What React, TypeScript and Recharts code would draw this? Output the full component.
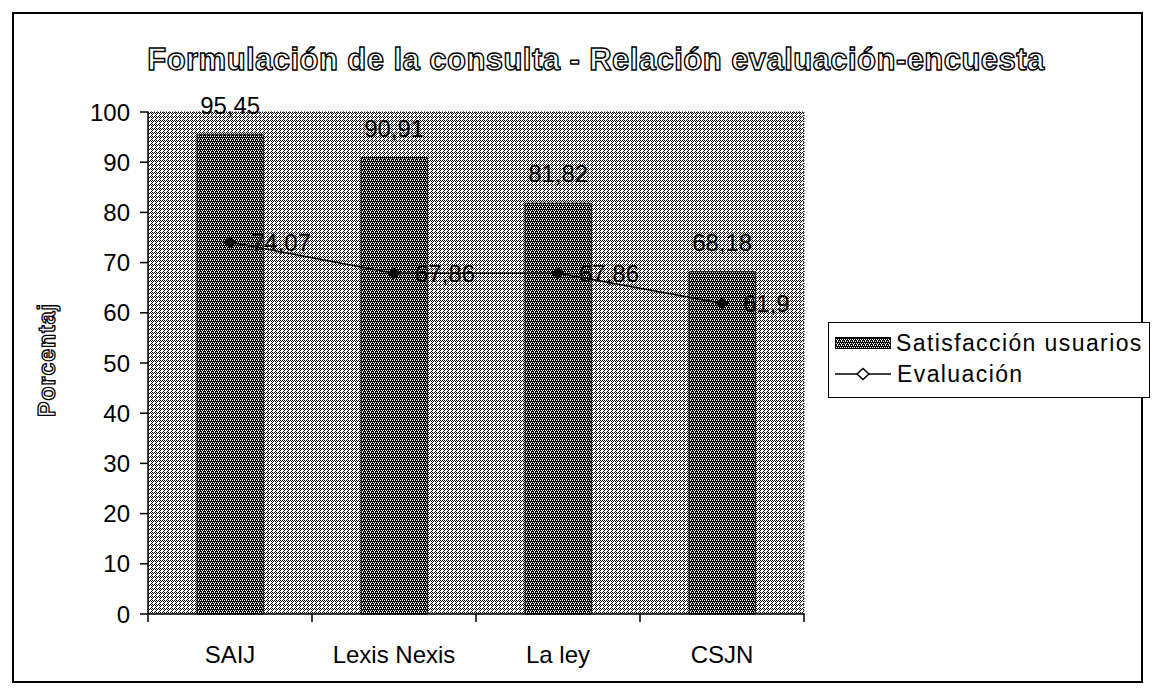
import React from 'react';
import { ComposedChart, Bar, Line, XAxis, YAxis, CartesianGrid, LabelList, Legend, ReferenceLine } from 'recharts';

const categories = ['SAIJ', 'Lexis Nexis', 'La ley', 'CSJN'];
const satisfaccion = [95.45, 90.91, 81.82, 68.18];
const evaluacion = [74.07, 67.86, 67.86, 61.9];
const yTicks = [0, 10, 20, 30, 40, 50, 60, 70, 80, 90, 100];

const data = categories.map((name, i) => ({
  name,
  satisfaccion: satisfaccion[i],
  evaluacion: evaluacion[i],
}));

const FONT = '"Liberation Sans", Arial, sans-serif';
const fmt = (v: number) => String(v).replace('.', ',');

// filled diamond marker for the line
const Diamond = (props: any) => {
  const { cx, cy } = props;
  if (cx == null || cy == null) return null;
  return <polygon points={`${cx},${cy - 6} ${cx + 7},${cy} ${cx},${cy + 6} ${cx - 7},${cy}`} fill="#000" />;
};

const LineLabel = (props: any) => {
  const { x, y, value } = props;
  return (
    <text x={x + 21} y={y} dy="0.36em" fontSize={24} fontFamily={FONT} fill="#000">
      {fmt(value)}
    </text>
  );
};

// category label plus tick marks on the band edges (Excel style)
const CatTick = (props: any) => {
  const { x, y, payload, index, visibleTicksCount, width } = props;
  const count = visibleTicksCount || categories.length;
  const half = payload?.offset || (width ? width / count / 2 : 0);
  const last = index === count - 1;
  return (
    <g>
      <line x1={x - half} x2={x - half} y1={y} y2={y + 8} stroke="#000" strokeWidth={1.5} />
      {last && <line x1={x + half} x2={x + half} y1={y} y2={y + 8} stroke="#000" strokeWidth={1.5} />}
      <text x={x} y={y + 49} textAnchor="middle" fontSize={24} fontFamily={FONT} fill="#000">
        {payload.value}
      </text>
    </g>
  );
};

const YLabel = (props: any) => {
  const { viewBox } = props;
  const cy = viewBox.y + viewBox.height / 2 - 3;
  return (
    <text
      x={47}
      y={cy}
      transform={`rotate(-90, 47, ${cy})`}
      textAnchor="middle"
      dy="0.36em"
      fontSize={23}
      fontWeight="bold"
      fontFamily={FONT}
      fill="#fff"
      stroke="#000"
      strokeWidth={1.3}
      letterSpacing={1}
    >
      Porcentaj
    </text>
  );
};

const renderLegend = () => (
  <div
    style={{
      border: '1.5px solid #000',
      background: '#fff',
      boxSizing: 'border-box',
      width: 322,
      height: 76,
      padding: '4px 0 0 6px',
      fontFamily: FONT,
      fontSize: 23,
      letterSpacing: 1.4,
      color: '#000',
    }}
  >
    <div style={{ display: 'flex', alignItems: 'center', height: 32 }}>
      <svg width={56} height={12} style={{ marginRight: 5 }}>
        <rect x={0.5} y={0.5} width={55} height={11} fill="url(#barPat)" stroke="#000" />
      </svg>
      <span>Satisfacción usuarios</span>
    </div>
    <div style={{ display: 'flex', alignItems: 'center', height: 30 }}>
      <svg width={56} height={14} style={{ marginRight: 6 }}>
        <line x1={0} y1={7} x2={56} y2={7} stroke="#000" strokeWidth={1.5} />
        <polygon points="28,1.5 34,7 28,12.5 22,7" fill="#fff" stroke="#000" strokeWidth={1.5} />
      </svg>
      <span>Evaluación</span>
    </div>
  </div>
);

export default function App() {
  return (
    <div style={{ position: 'absolute', left: 0, top: 0, width: 1153, height: 695, background: '#fff' }}>
      <div
        style={{
          position: 'absolute',
          left: 12,
          top: 12,
          width: 1131,
          height: 671,
          border: '2px solid #000',
          boxSizing: 'border-box',
        }}
      />
      <div
        style={{
          position: 'absolute',
          left: 100,
          top: 42,
          width: 992,
          textAlign: 'center',
          fontFamily: FONT,
          fontSize: 31,
          fontWeight: 'bold',
          color: '#fff',
          WebkitTextStroke: '1.4px #000',
          letterSpacing: 0.45,
          whiteSpace: 'nowrap',
        }}
      >
        Formulación de la consulta - Relación evaluación-encuesta
      </div>
      <ComposedChart
        width={1153}
        height={695}
        data={data}
        margin={{ top: 112, right: 348, bottom: 0, left: 0 }}
        barCategoryGap="30%"
        style={{ position: 'absolute', left: 0, top: 0 }}
      >
        <defs>
          <pattern id="bgPat" width={4} height={4} patternUnits="userSpaceOnUse">
            <rect width={4} height={4} fill="#fff" />
            <rect x={0} y={0} width={1} height={1} fill="#000" />
            <rect x={2} y={0} width={1} height={1} fill="#000" />
            <rect x={1} y={1} width={1} height={1} fill="#000" />
            <rect x={3} y={1} width={1} height={1} fill="#000" />
            <rect x={0} y={2} width={1} height={1} fill="#000" />
            <rect x={3} y={3} width={1} height={1} fill="#000" />
          </pattern>
          <pattern id="barPat" width={4} height={4} patternUnits="userSpaceOnUse">
            <rect width={4} height={4} fill="#000" />
            <rect x={0} y={0} width={1} height={1} fill="#fff" />
            <rect x={2} y={0} width={1} height={1} fill="#fff" />
            <rect x={1} y={2} width={1} height={1} fill="#fff" />
            <rect x={3} y={2} width={1} height={1} fill="#fff" />
            <rect x={2} y={3} width={1} height={1} fill="#fff" />
          </pattern>
        </defs>
        <CartesianGrid horizontal={false} vertical={false} fill="url(#bgPat)" />
        <XAxis
          dataKey="name"
          height={81}
          interval={0}
          tickSize={0}
          tickMargin={0}
          tickLine={false}
          axisLine={{ stroke: '#000', strokeWidth: 1.5 }}
          tick={<CatTick />}
        />
        <YAxis
          width={148}
          domain={[0, 100]}
          ticks={yTicks}
          interval={0}
          tickSize={8}
          tickMargin={10}
          tick={{ fill: '#000', fontSize: 24, fontFamily: FONT }}
          axisLine={{ stroke: '#000', strokeWidth: 1.5 }}
          tickLine={{ stroke: '#000', strokeWidth: 1.5 }}
          label={<YLabel />}
        />
        {/* dotted right border of the plot area */}
        <YAxis
          yAxisId="right"
          orientation="right"
          width={1}
          domain={[0, 100]}
          tick={false}
          tickLine={false}
          axisLine={{ stroke: '#000', strokeDasharray: '1 2' }}
        />
        {/* dotted top border */}
        <ReferenceLine y={100} stroke="#000" strokeDasharray="1 2" />
        <Bar dataKey="satisfaccion" name="Satisfacción usuarios" fill="url(#barPat)" stroke="#000" strokeWidth={1} isAnimationActive={false}>
          <LabelList dataKey="satisfaccion" position="top" offset={21} formatter={(v: any) => fmt(v)} fill="#000" fontSize={24} fontFamily={FONT} />
        </Bar>
        <Line
          dataKey="evaluacion"
          name="Evaluación"
          stroke="#000"
          strokeWidth={1.5}
          dot={<Diamond />}
          activeDot={false}
          isAnimationActive={false}
        >
          <LabelList dataKey="evaluacion" content={<LineLabel />} />
        </Line>
        <Legend
          layout="horizontal"
          verticalAlign="middle"
          align="center"
          content={renderLegend}
          wrapperStyle={{ left: 828, top: 322, width: 322, height: 76 }}
        />
      </ComposedChart>
    </div>
  );
}
